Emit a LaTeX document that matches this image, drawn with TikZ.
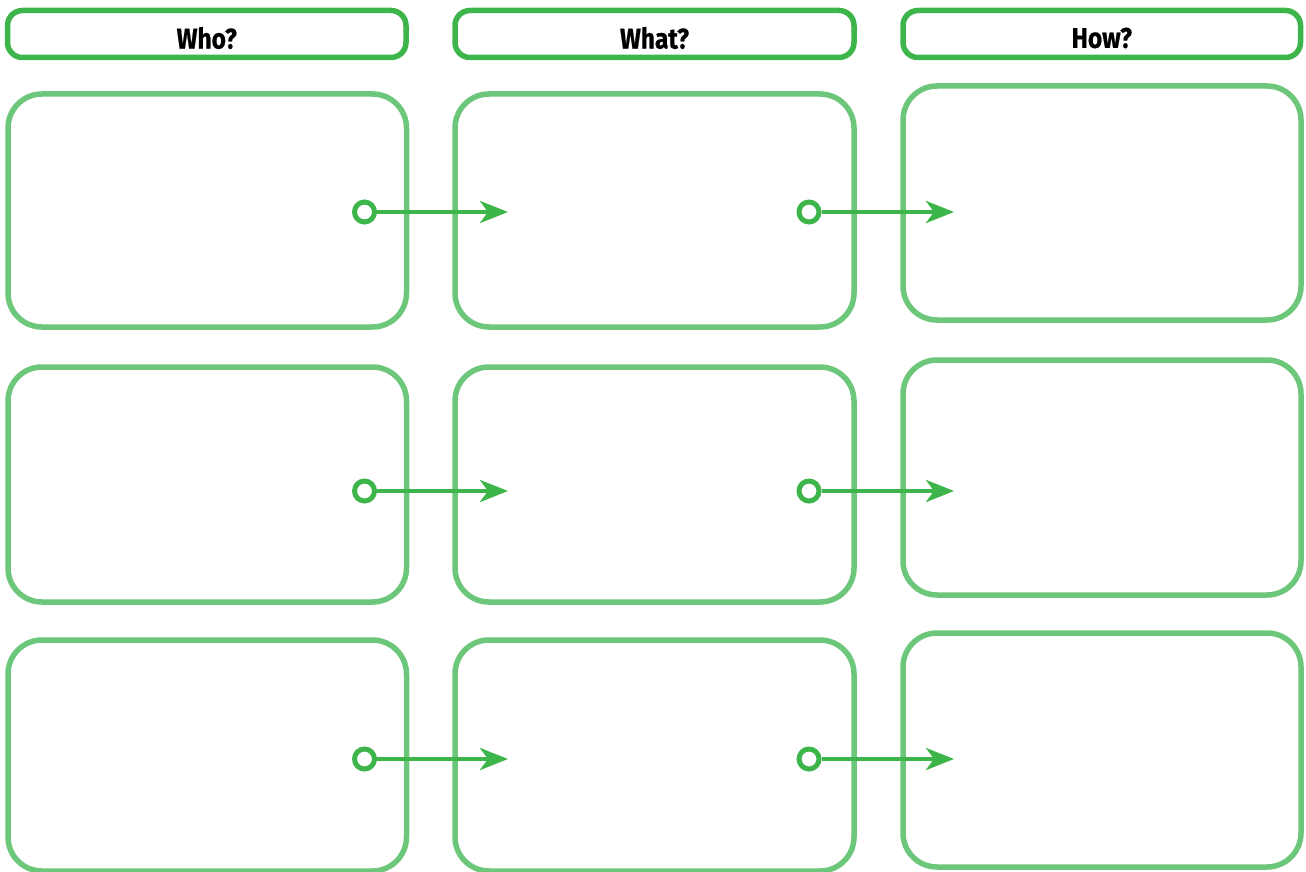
\documentclass[tikz,border=0pt]{standalone}
\usepackage{fontspec}
\setsansfont{Fira Sans}[FakeStretch=0.86, BoldFeatures={FakeBold=0.6}]
\usetikzlibrary{arrows.meta}
\definecolor{hdrgreen}{RGB}{61,181,74}
\definecolor{cellgreen}{RGB}{108,199,122}
\tikzset{
  hdr/.style={draw=hdrgreen, line width=5.5pt, rounded corners=15pt, fill=white, inner sep=0pt},
  hdrtext/.style={font=\sffamily\bfseries\fontsize{28.5}{30}\selectfont, text=black, inner sep=0pt},
  cell/.style={draw=cellgreen, line width=5.5pt, rounded corners=34pt, inner sep=0pt},
  dot/.style={circle, draw=hdrgreen, line width=5pt, fill=white, minimum size=20pt, inner sep=0pt},
  flow/.style={draw=hdrgreen, line width=4.5pt, -{Stealth[length=28pt, width=22pt, inset=8pt]}}
}
\begin{document}
\begin{tikzpicture}[x=1pt, y=-1pt]
\useasboundingbox (0,0) rectangle (1306,872);
% headers
\node[hdr, minimum width=398.5pt, minimum height=47pt] (hwho) at (206.75,34) {};
\node[hdrtext] (twho) at (206.75,38) {Who?};
\node[hdr, minimum width=399pt, minimum height=47pt] (hwhat) at (654.5,34) {};
\node[hdrtext] (twhat) at (654.5,38) {What?};
\node[hdr, minimum width=397.5pt, minimum height=47pt] (hhow) at (1101.75,34) {};
\node[hdrtext] (thow) at (1101.75,38) {How?};
% cells column 1
\node[cell, minimum width=398.5pt, minimum height=233pt] (a1) at (207.25,210.5) {};
\node[cell, minimum width=398.5pt, minimum height=235pt] (a2) at (207.25,484.5) {};
\node[cell, minimum width=398.5pt, minimum height=231pt] (a3) at (207.25,755.5) {};
% column 2
\node[cell, minimum width=399pt, minimum height=233pt] (b1) at (654.5,210.5) {};
\node[cell, minimum width=399pt, minimum height=235pt] (b2) at (654.5,484.5) {};
\node[cell, minimum width=399pt, minimum height=231pt] (b3) at (654.5,755.5) {};
% column 3
\node[cell, minimum width=398pt, minimum height=234pt] (c1) at (1102,203) {};
\node[cell, minimum width=398pt, minimum height=235pt] (c2) at (1102,477.5) {};
\node[cell, minimum width=398pt, minimum height=234pt] (c3) at (1102,750) {};
% connectors
\foreach \r/\y in {1/212, 2/491, 3/759}{
  \node[dot] (d1\r) at (364.5,\y) {};
  \coordinate (t1\r) at (508,\y);
  \draw[flow] (d1\r) -- (t1\r);
  \node[dot] (d2\r) at (809,\y) {};
  \coordinate (t2\r) at (954,\y);
  \draw[flow] (d2\r) -- (t2\r);
}
\end{tikzpicture}
\end{document}
